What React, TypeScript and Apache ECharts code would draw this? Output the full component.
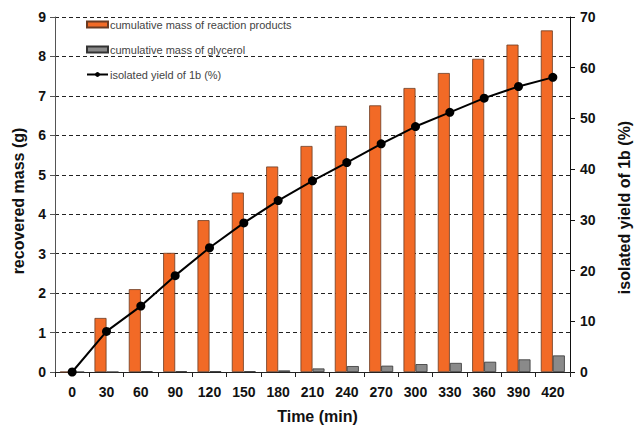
import React, { useEffect, useRef } from "react";
import * as echarts from "echarts";

const categories = ["0", "30", "60", "90", "120", "150", "180", "210", "240", "270", "300", "330", "360", "390", "420"];
const reactionProducts = [0, 1.37, 2.1, 3.02, 3.85, 4.55, 5.21, 5.73, 6.24, 6.76, 7.2, 7.58, 7.94, 8.3, 8.66];
const glycerol = [0, 0, 0.02, 0.02, 0.02, 0.02, 0.04, 0.09, 0.15, 0.16, 0.2, 0.23, 0.26, 0.32, 0.42];
const yieldPct = [0, 8.0, 13.0, 19.0, 24.5, 29.4, 33.8, 37.7, 41.3, 45.0, 48.4, 51.2, 54.0, 56.3, 58.1];

const FONT = "Liberation Sans, Arial, sans-serif";

export default function App() {
  const ref = useRef<HTMLDivElement>(null);
  useEffect(() => {
    if (!ref.current) return;
    const chart = echarts.init(ref.current, undefined, { renderer: "svg" });
    chart.setOption({
      animation: false,
      backgroundColor: "#ffffff",
      textStyle: { fontFamily: FONT },
      grid: { left: 55, right: 47, top: 17, bottom: 52 },
      legend: {
        orient: "vertical",
        left: 81,
        top: 14,
        itemGap: 14,
        itemWidth: 21,
        itemHeight: 6,
        textStyle: { fontSize: 11, color: "#444", fontFamily: FONT, padding: [0, 0, 0, -3] },
        data: [
          { name: "cumulative mass of reaction products", icon: "rect" },
          { name: "cumulative mass of glycerol", icon: "rect" },
          { name: "isolated yield of 1b (%)" },
        ],
      },
      xAxis: {
        type: "category",
        data: categories,
        name: "Time (min)",
        nameLocation: "middle",
        nameGap: 36,
        nameTextStyle: { fontSize: 16, fontWeight: "bold", color: "#111", fontFamily: FONT, padding: [0, 0, 0, 10] },
        axisLine: { lineStyle: { color: "#222", width: 1 } },
        axisTick: { show: true, length: 5, lineStyle: { color: "#222" } },
        axisLabel: { fontSize: 14, fontWeight: "bold", color: "#111", margin: 13, fontFamily: FONT },
      },
      yAxis: [
        {
          type: "value",
          min: 0,
          max: 9,
          interval: 1,
          name: "recovered mass (g)",
          nameLocation: "middle",
          nameGap: 29,
          nameTextStyle: { fontSize: 16, fontWeight: "bold", color: "#111", fontFamily: FONT, padding: [0, 13, 0, 0] },
          axisLine: { show: true, lineStyle: { color: "#555", width: 1 } },
          axisTick: { show: true, length: 5, lineStyle: { color: "#555" } },
          axisLabel: { fontSize: 14, fontWeight: "bold", color: "#111", margin: 9, fontFamily: FONT },
          splitLine: { show: true, lineStyle: { color: "#222", type: [4, 3], width: 1 } },
        },
        {
          type: "value",
          min: 0,
          max: 70,
          interval: 10,
          position: "right",
          name: "isolated yield of 1b (%)",
          nameLocation: "middle",
          nameGap: 46,
          nameTextStyle: { fontSize: 16, fontWeight: "bold", color: "#111", fontFamily: FONT, padding: [0, 26, 0, 0] },
          axisLine: { show: true, lineStyle: { color: "#111", width: 1 } },
          axisTick: { show: true, length: 5, lineStyle: { color: "#111" } },
          axisLabel: { fontSize: 14, fontWeight: "bold", color: "#111", margin: 10, fontFamily: FONT },
          splitLine: { show: false },
        },
      ],
      series: [
        {
          name: "cumulative mass of reaction products",
          type: "bar",
          data: reactionProducts,
          barWidth: 12,
          barGap: "0%",
          itemStyle: { color: "#F26A26", borderColor: "#6b3b22", borderWidth: 0.8 },
        },
        {
          name: "cumulative mass of glycerol",
          type: "bar",
          data: glycerol,
          barWidth: 12,
          barGap: "0%",
          itemStyle: { color: "#8a8a8a", borderColor: "#333", borderWidth: 0.8 },
        },
        {
          name: "isolated yield of 1b (%)",
          type: "line",
          yAxisIndex: 1,
          data: yieldPct,
          symbol: "circle",
          symbolSize: 9,
          z: 5,
          lineStyle: { color: "#000", width: 2 },
          itemStyle: { color: "#000" },
        },
      ],
    });
    return () => chart.dispose();
  }, []);
  return <div ref={ref} style={{ width: 640, height: 429, position: "absolute", left: 0, top: 0 }} />;
}
